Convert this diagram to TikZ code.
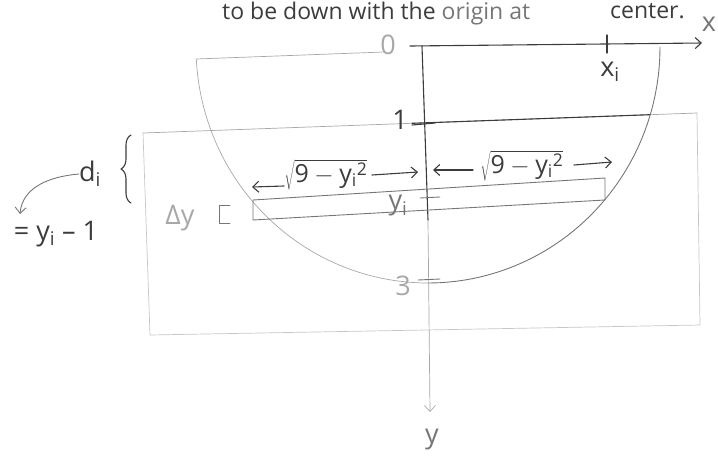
\documentclass[tikz,border=0pt]{standalone}
\usepackage{fontspec}
\setmainfont{Open Sans}
\usetikzlibrary{arrows.meta,decorations.pathreplacing}
\definecolor{ink}{HTML}{3C3C3C}
\definecolor{mid}{HTML}{767676}
\definecolor{light}{HTML}{A8A8A8}
\definecolor{faint}{HTML}{C6C6C6}
\begin{document}
\begin{tikzpicture}[x=1pt,y=-1pt,
  pencil/.style={line width=1.1pt, draw=ink, line cap=round, line join=round},
  midline/.style={line width=0.9pt, draw=mid, line cap=round, line join=round},
  lightline/.style={line width=0.7pt, draw=light, line cap=round, line join=round},
  faintline/.style={line width=0.7pt, draw=faint, line cap=round, line join=round},
  arr/.style={-{Straight Barb[length=6pt,width=11pt]}},
  lbl/.style={font=\fontsize{27}{30}\selectfont, text=ink, inner sep=0pt},
  toptext/.style={font=\fontsize{23}{26}\selectfont, text=ink, inner sep=0pt},
  sq/.style={font=\fontsize{25}{30}\selectfont, text=ink, inner sep=0pt}]
\useasboundingbox (0,0) rectangle (718,456);

% heading (cut off at top)
\node[toptext, anchor=base west] (t1) at (222,19) {to be down with the \textcolor{mid}{origin at}};
\node[toptext, anchor=base west] (t2) at (610,18) {center.};

% tank (lower rectangle)
\coordinate (r1) at (143,133);
\coordinate (r2) at (150,335);
\coordinate (r3) at (700,325);
\coordinate (r4) at (697,113);
\draw[faintline] (r1) -- (r2) -- (r3) -- (r4);
\draw[lightline] (r1) -- (r4);
\coordinate (w1) at (412,123.3);
\coordinate (w2) at (650,114.7);
\draw[pencil] (w1) -- (w2);

% upper faint line
\coordinate (u1) at (196,59);
\coordinate (u2) at (384,52);
\draw[lightline] (u1) -- (u2);

% semicircle
\draw[midline] plot[domain=0:90, smooth, samples=40] ({428+232*cos(\x)},{47+236*sin(\x)});
\draw[lightline] plot[domain=90:177, smooth, samples=40] ({428+232*cos(\x)},{47+236*sin(\x)});

% x axis
\node[lbl, text=light] (o) at (388,45) {0};
\coordinate (xs) at (410,46);
\coordinate (xe) at (702,43);
\draw[pencil, arr] (xs) -- (xe);
\node[lbl, text=mid] (x) at (709,24) {x};
\coordinate (xt1) at (607,35);
\coordinate (xt2) at (607,53);
\draw[pencil] (xt1) -- (xt2);
\node[lbl] (xi) at (610,72) {x\textsubscript{i}};

% y axis
\coordinate (ys) at (422,46);
\coordinate (ym) at (428,220);
\coordinate (ye) at (430,412);
\draw[pencil] (ys) -- (ym);
\draw[lightline, arr] (ym) -- (ye);
\node[lbl, text=mid] (y) at (432,440) {y};

% tick 1
\node[lbl] (one) at (400,120) {1};
\coordinate (t1a) at (412,125);
\coordinate (t1b) at (435,123);
\draw[pencil] (t1a) -- (t1b);

% strip
\coordinate (s1) at (253,200);
\coordinate (s2) at (605,178);
\coordinate (s3) at (605,200);
\coordinate (s4) at (253,220);
\draw[midline] (s1) -- (s2) -- (s3) -- (s4) -- cycle;

% y_i
\node[lbl, text=mid] (yi) at (398,206) {y\textsubscript{i}};
\coordinate (yt1) at (420,198);
\coordinate (yt2) at (440,197);
\draw[midline] (yt1) -- (yt2);

% 3
\node[lbl, text=light] (three) at (403,286) {3};
\coordinate (tt1) at (418,280);
\coordinate (tt2) at (440,279);
\draw[midline] (tt1) -- (tt2);

% square roots with arrows
\node[sq] (sqL) at (326,175) {$\sqrt{\mathrm{9}-\mathrm{y}_{\mathrm{i}}{}^{\mathrm{2}}}$};
\node[sq] (sqR) at (522,166) {$\sqrt{\mathrm{9}-\mathrm{y}_{\mathrm{i}}{}^{\mathrm{2}}}$};
\coordinate (aL1) at (284,186);
\coordinate (aL2) at (252,187);
\coordinate (aL3) at (372,175);
\coordinate (aL4) at (418,172);
\coordinate (aR1) at (473,170);
\coordinate (aR2) at (433,170);
\coordinate (aR3) at (574,165);
\coordinate (aR4) at (612,162);
\draw[pencil, arr] (aL1) -- (aL2);
\draw[pencil, arr] (aL3) -- (aL4);
\draw[pencil, arr] (aR1) -- (aR2);
\draw[pencil, arr] (aR3) -- (aR4);

% Delta y with bracket
\node[lbl, text=light] (dy) at (180,218) {Δy};
\coordinate (b1) at (230,205);
\coordinate (b2) at (219,205);
\coordinate (b3) at (219,223);
\coordinate (b4) at (230,223);
\draw[midline] (b1) -- (b2) -- (b3) -- (b4);

% d_i brace and formula
\coordinate (brA) at (131,203);
\coordinate (brB) at (131,135);
\draw[pencil, decorate, decoration={brace, amplitude=10pt}] (brA) -- (brB);
\node[lbl] (di) at (90,174) {d\textsubscript{i}};
\node[lbl] (eq) at (56,234) {= y\textsubscript{i} -- 1};
\coordinate (eqtip) at (20,214);
\draw[midline, arr] (di.west) to[out=185, in=85] (eqtip);
\end{tikzpicture}
\end{document}
